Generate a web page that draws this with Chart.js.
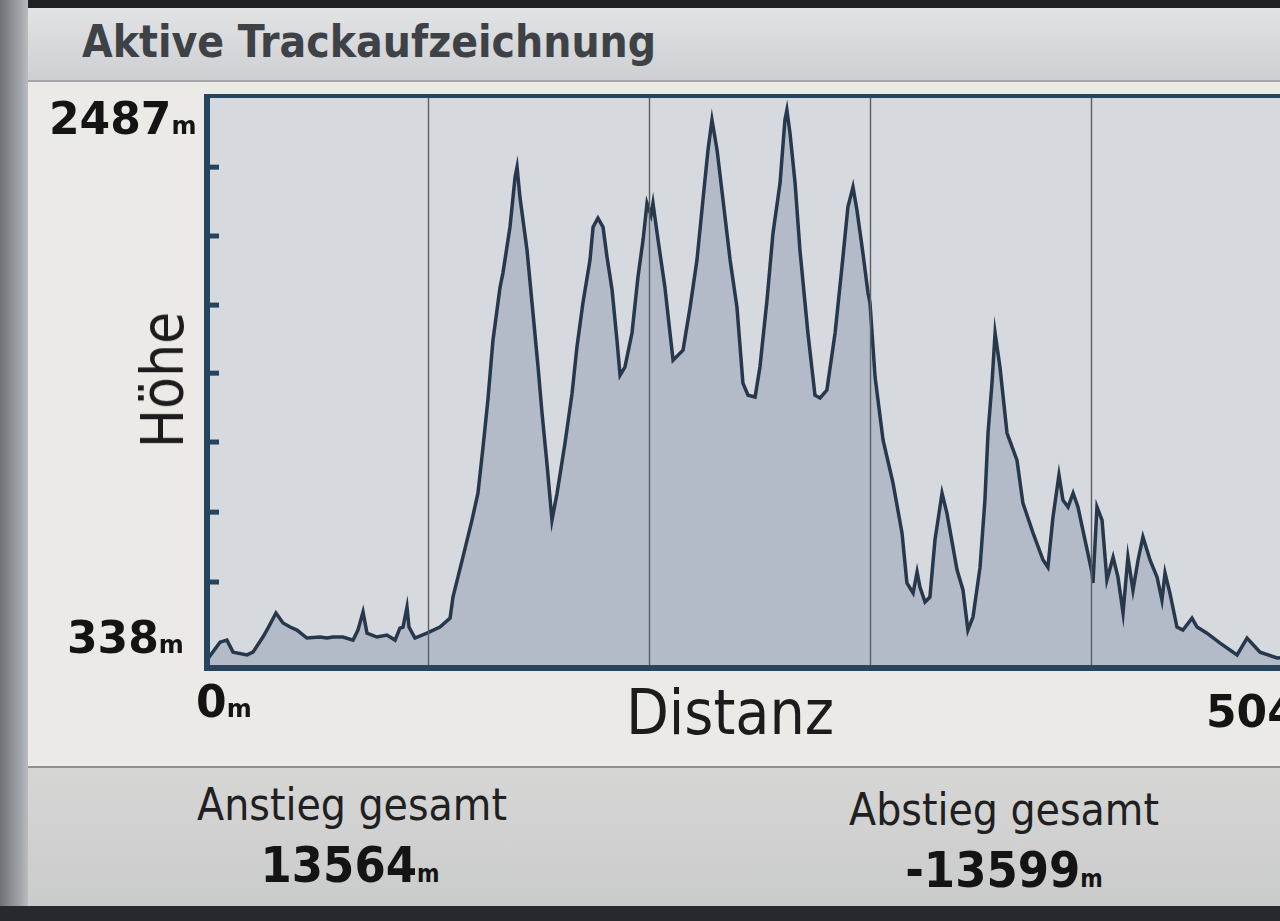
<!DOCTYPE html>
<html>
<head>
<meta charset="utf-8">
<script src="https://cdn.jsdelivr.net/npm/chart.js@4.4.1/dist/chart.umd.min.js"></script>
<style>
  html, body { margin: 0; padding: 0; }
  body { width: 1280px; height: 921px; overflow: hidden; position: relative; background: #1f2225; font-family: "DejaVu Sans Condensed", "DejaVu Sans", sans-serif; }
  .abs { position: absolute; white-space: nowrap; }
  #bezel { left: 0; top: 0; width: 28px; height: 921px; background: linear-gradient(90deg, #6f7378, #9fa3a8 70%, #b9bcbf); }
  #titlebar { left: 28px; top: 8px; width: 1252px; height: 72px; background: linear-gradient(#e2e3e5, #cdcfd2); border-bottom: 2px solid #a3a5a9; }
  #main { left: 28px; top: 82px; width: 1252px; height: 684px; background: #ebeae7; }
  #panel { left: 28px; top: 766px; width: 1252px; height: 140px; background: linear-gradient(#d6d6d5, #cacbcb); border-top: 2px solid #8e9093; }
  #bottombar { left: 0; top: 906px; width: 1280px; height: 15px; background: #26292d; }
  #title { left: 82px; top: 16px; font: bold 44px "DejaVu Sans Condensed", sans-serif; color: #3e4246; }
  .num { font-family: "DejaVu Sans", sans-serif; font-weight: bold; color: #141414; }
  .unit { font-size: 24px; }
  #chartBox { left: 180px; top: 80px; width: 1160px; height: 610px; }
  .lbl { font-size: 44px; color: #202020; }
</style>
</head>
<body>
<div id="bezel" class="abs"></div>
<div id="titlebar" class="abs"></div>
<div id="title" class="abs">Aktive Trackaufzeichnung</div>
<div id="main" class="abs"></div>
<div id="panel" class="abs"></div>
<div id="bottombar" class="abs"></div>

<div id="chartBox" class="abs"><canvas id="c"></canvas></div>

<div class="abs num" style="left:49px; top:93px; font-size:44px;">2487<span class="unit">m</span></div>
<div class="abs num" style="left:67px; top:612px; font-size:44px;">338<span class="unit">m</span></div>
<div class="abs num" style="left:196px; top:676px; font-size:44px;">0<span class="unit">m</span></div>
<div class="abs num" style="left:1206px; top:686px; font-size:44px;">504</div>

<div class="abs" style="left:163px; top:380px; transform: translate(-50%,-50%) rotate(-90deg); font-size:58px; color:#1c1c1c;">Höhe</div>
<div class="abs" style="left:730px; top:712px; transform: translate(-50%,-50%); font-size:62px; color:#1c1c1c;">Distanz</div>

<div class="abs lbl" style="left:352px; top:804px; transform: translate(-50%,-50%);">Anstieg gesamt</div>
<div class="abs num" style="left:350px; top:865px; transform: translate(-50%,-50%); font-family:'DejaVu Sans Condensed',sans-serif; font-size:50px;">13564<span class="unit">m</span></div>
<div class="abs lbl" style="left:1004px; top:809px; transform: translate(-50%,-50%);">Abstieg gesamt</div>
<div class="abs num" style="left:1004px; top:870px; transform: translate(-50%,-50%); font-family:'DejaVu Sans Condensed',sans-serif; font-size:50px;">-13599<span class="unit">m</span></div>

<script>
// distance along the track (km) and elevation (m)
const distKm = [0,0.59,0.90,1.18,1.81,2.08,2.53,2.76,3.12,3.44,
  3.76,4.07,4.52,5.11,5.43,5.70,6.15,6.61,6.83,7.06,
  7.24,7.69,8.14,8.51,8.73,8.87,9.05,9.14,9.41,9.95,
  10.54,11.00,11.13,11.58,11.99,12.26,12.49,12.71,12.94,13.26,
  13.39,13.71,13.94,14.03,14.16,14.48,14.75,14.98,15.16,15.38,
  15.61,15.84,16.20,16.52,16.74,17.01,17.33,17.47,17.69,17.92,
  18.10,18.33,18.55,18.69,18.91,19.23,19.50,19.73,19.91,20.09,
  20.18,20.41,20.72,20.95,21.09,21.54,21.86,22.17,22.44,22.67,
  22.85,23.08,23.35,23.67,23.98,24.25,24.48,24.80,25.02,25.34,
  25.61,25.93,26.15,26.24,26.38,26.61,26.83,27.19,27.51,27.74,
  28.05,28.42,28.73,29.00,29.23,29.41,29.68,29.91,30.00,30.23,
  30.59,31.04,31.45,31.67,31.95,32.13,32.26,32.49,32.71,32.94,
  33.26,33.48,33.94,34.21,34.43,34.66,34.98,35.20,35.34,35.52,
  35.66,35.88,36.20,36.65,36.92,37.38,37.83,38.05,38.28,38.55,
  38.73,38.96,39.19,39.41,39.73,40.05,40.09,40.27,40.50,40.72,
  41.00,41.22,41.45,41.67,41.90,42.13,42.35,42.67,42.99,43.21,
  43.35,43.57,43.89,44.16,44.57,44.80,45.25,45.84,46.61,47.06,
  47.65,48.42,49.2,50.0];

const elevM = [338,408,416,369,358,369,428,463,522,483,
  467,455,424,428,424,428,428,416,455,526,
  443,428,436,416,463,467,545,467,424,443,
  467,502,584,740,885,990,1170,1354,1588,1795,
  1850,2030,2225,2264,2147,1940,1694,1483,1303,1108,
  885,990,1186,1381,1561,1733,1901,2030,2065,2030,
  1913,1784,1588,1451,1483,1616,1834,1979,2123,2077,
  2123,1979,1795,1616,1510,1549,1717,1901,2135,2331,
  2448,2331,2135,1901,1717,1420,1373,1366,1483,1745,
  2006,2202,2448,2487,2397,2202,1940,1616,1373,1362,
  1393,1616,1873,2108,2186,2096,1928,1772,1733,1444,
  1198,1030,834,639,600,682,623,565,584,807,
  990,912,690,611,455,506,701,963,1225,1420,
  1616,1483,1225,1119,951,834,729,701,897,1061,
  963,936,990,936,807,678,639,936,885,651,
  740,662,522,740,611,729,819,729,662,572,
  678,600,467,455,502,467,443,404,358,424,
  369,346,350,345];

const gridKm = [10, 20, 30, 40];                        // vertical divisions
const heightMarks = [643, 916, 1190, 1459, 1725, 1995, 2264]; // short marks on the left axis
const xMin = 0, xMax = 50;
const yMin = 307, yMax = 2542;

const points = distKm.map((d, i) => ({ x: d, y: elevM[i] }));

const axisColor = '#27445f';

const profileFrame = {
  id: 'profileFrame',
  beforeDatasetsDraw(chart) {
    const { ctx, chartArea: a } = chart;
    ctx.save();
    ctx.fillStyle = '#d6d9dd';
    ctx.fillRect(a.left, a.top, a.right - a.left, a.bottom - a.top);
    ctx.restore();
  },
  afterDatasetsDraw(chart) {
    const { ctx, chartArea: a, scales: { x, y } } = chart;
    ctx.save();
    // thin vertical grid
    ctx.strokeStyle = '#59606a';
    ctx.lineWidth = 1.4;
    gridKm.forEach(v => {
      const px = Math.round(x.getPixelForValue(v)) + 0.5;
      ctx.beginPath(); ctx.moveTo(px, a.top); ctx.lineTo(px, a.bottom); ctx.stroke();
    });
    // frame
    ctx.strokeStyle = axisColor;
    ctx.lineWidth = 4;
    ctx.beginPath(); ctx.moveTo(a.left, a.top); ctx.lineTo(a.right, a.top); ctx.stroke();
    ctx.lineWidth = 6;
    ctx.beginPath(); ctx.moveTo(a.left, a.top - 2); ctx.lineTo(a.left, a.bottom + 3); ctx.stroke();
    ctx.beginPath(); ctx.moveTo(a.left - 3, a.bottom); ctx.lineTo(a.right, a.bottom); ctx.stroke();
    // inward tick marks
    ctx.lineWidth = 5;
    heightMarks.forEach(v => {
      const py = y.getPixelForValue(v);
      ctx.beginPath(); ctx.moveTo(a.left, py); ctx.lineTo(a.left + 12, py); ctx.stroke();
    });
    ctx.restore();
  }
};

new Chart(document.getElementById('c'), {
  type: 'line',
  data: {
    datasets: [{
      data: points,
      borderColor: '#27384c',
      borderWidth: 3.5,
      backgroundColor: 'rgba(130,145,171,0.42)',
      fill: 'start',
      pointRadius: 0,
      tension: 0
    }]
  },
  options: {
    responsive: true,
    maintainAspectRatio: false,
    animation: false,
    layout: { padding: { left: 27, top: 16, right: 28, bottom: 22 } },
    plugins: { legend: { display: false }, tooltip: { enabled: false } },
    scales: {
      x: { type: 'linear', min: xMin, max: xMax, display: false },
      y: { type: 'linear', min: yMin, max: yMax, display: false }
    }
  },
  plugins: [profileFrame]
});
</script>
</body>
</html>
